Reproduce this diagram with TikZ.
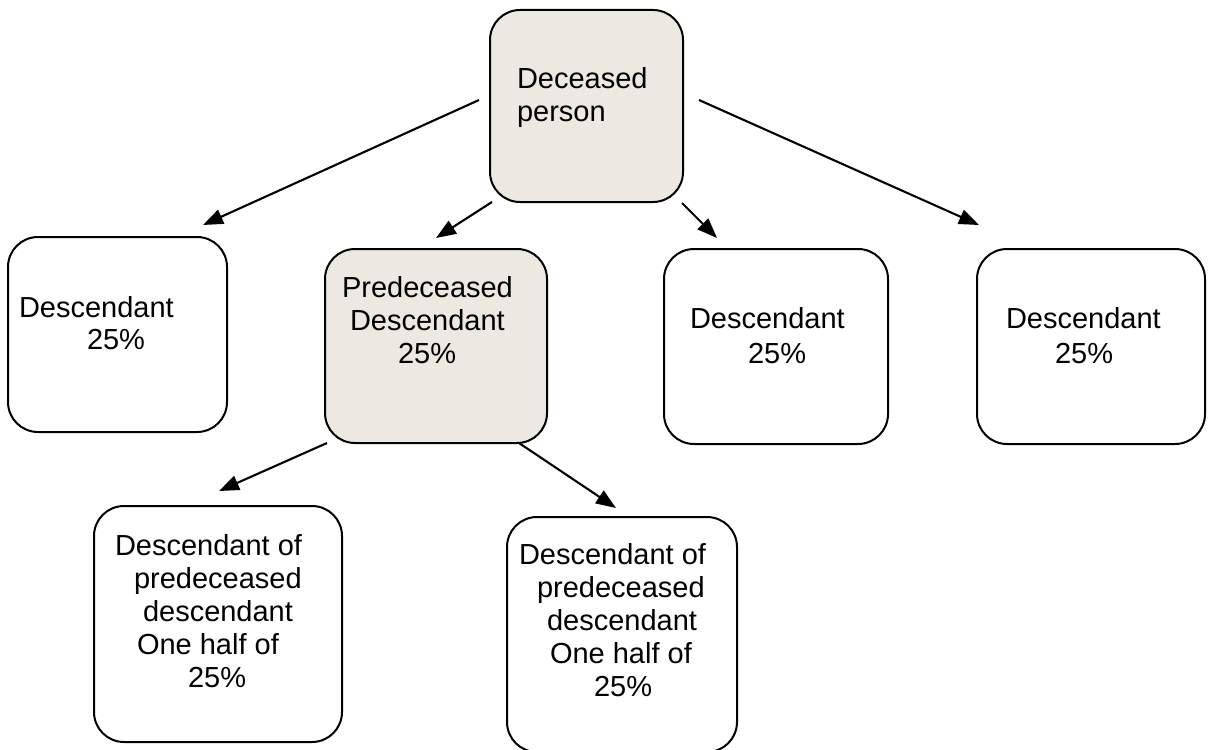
\documentclass[tikz,border=0pt]{standalone}
\usepackage{fontspec}
\setmainfont{Liberation Sans}
\usetikzlibrary{arrows.meta}
\definecolor{boxfill}{RGB}{236,234,224}
\tikzset{
  box/.style={draw=black, line width=1pt, rounded corners=15pt, rectangle, inner sep=0pt, outer sep=0pt},
  shaded/.style={box, fill=boxfill},
  txt/.style={anchor=base west, inner sep=0pt, outer sep=0pt, font=\fontsize{14.5}{16.5}\selectfont},
  arr/.style={line width=1.05pt, -{Triangle[length=10pt,width=7.5pt]}}
}
\begin{document}
\begin{tikzpicture}[x=0.5pt,y=-0.5pt]
\useasboundingbox (0,0) rectangle (1209,749);
% boxes
\node[shaded, minimum width=96.5pt, minimum height=96pt] (top) at (586.5,106) {};
\node[box, minimum width=109.5pt, minimum height=97.5pt] (A) at (117.5,334.5) {};
\node[shaded, minimum width=111pt, minimum height=97pt] (B) at (436,346) {};
\node[box, minimum width=112pt, minimum height=97.5pt] (C) at (776,346.5) {};
\node[box, minimum width=114pt, minimum height=97.5pt] (D) at (1091,346.5) {};
\node[box, minimum width=124pt, minimum height=118pt] (E) at (218,624) {};
\node[box, minimum width=115pt, minimum height=117.5pt] (F) at (622,634.5) {};
% texts
\node[txt] (t1) at (517,89) {Deceased};
\node[txt] (t2) at (517,121) {person};
\node[txt] (a1) at (19,317) {Descendant};
\node[txt] (a2) at (87,349) {25\%};
\node[txt] (b1) at (342,297) {Predeceased};
\node[txt] (b2) at (350,330) {Descendant};
\node[txt] (b3) at (398,363) {25\%};
\node[txt] (c1) at (690,328) {Descendant};
\node[txt] (c2) at (748,363) {25\%};
\node[txt] (d1) at (1006,328) {Descendant};
\node[txt] (d2) at (1055,363) {25\%};
\node[txt] (e1) at (115,555) {Descendant of};
\node[txt] (e2) at (134,588) {predeceased};
\node[txt] (e3) at (143,621) {descendant};
\node[txt] (e4) at (137,654) {One half of};
\node[txt] (e5) at (188,687) {25\%};
\node[txt] (f1) at (519,564) {Descendant of};
\node[txt] (f2) at (537,597) {predeceased};
\node[txt] (f3) at (547,630) {descendant};
\node[txt] (f4) at (550,663) {One half of};
\node[txt] (f5) at (594,696) {25\%};
% connector end points
\coordinate (sA) at (479,100);  \coordinate (eA) at (203,225);
\coordinate (sB) at (492,202);  \coordinate (eB) at (436,238);
\coordinate (sC) at (682,203);  \coordinate (eC) at (717,238);
\coordinate (sD) at (699,100);  \coordinate (eD) at (979,225);
\coordinate (sE) at (327,443);  \coordinate (eE) at (219,491);
\coordinate (sF) at (519,443);  \coordinate (eF) at (616,508);
\draw[arr] (sA) -- (eA);
\draw[arr] (sB) -- (eB);
\draw[arr] (sC) -- (eC);
\draw[arr] (sD) -- (eD);
\draw[arr] (sE) -- (eE);
\draw[arr] (sF) -- (eF);
\end{tikzpicture}
\end{document}
